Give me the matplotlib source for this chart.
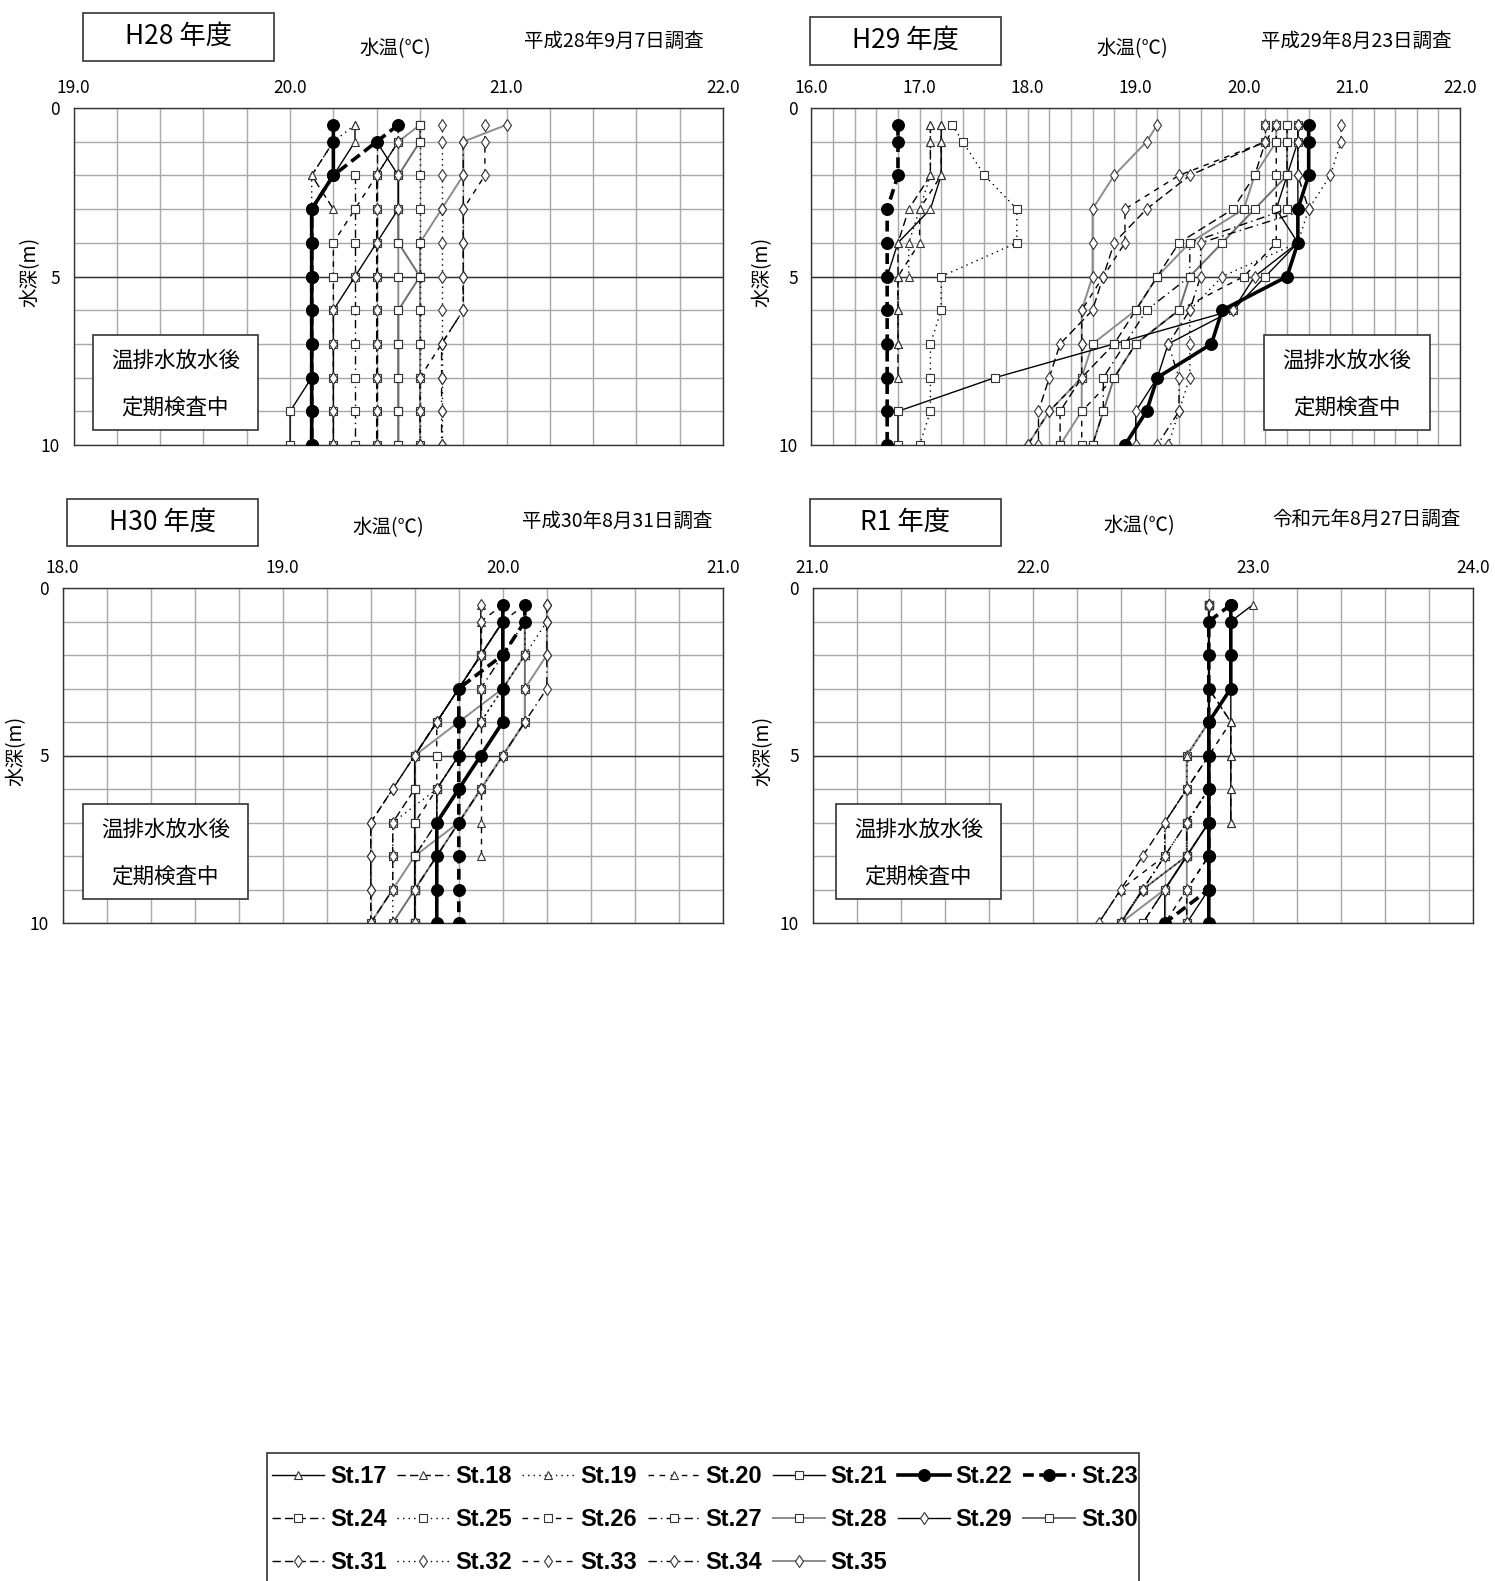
import numpy as np
import matplotlib
matplotlib.use('Agg')
import matplotlib.pyplot as plt
from matplotlib.lines import Line2D
from matplotlib.patches import Rectangle

plt.rcParams['font.family'] = ['Noto Sans CJK JP', 'DejaVu Sans']

n = np.nan

# depth of each measurement (m)
depths = [0.5, 1, 2, 3, 4, 5, 6, 7, 8, 9, 10]
stations = ['St.%d' % i for i in range(17, 36)]

# water temperature per station, H28 (2016/9/7)
h28 = {
    'St.17': [20.3, 20.3, 20.2, 20.1, n, n, n, n, n, n, n],
    'St.18': [20.2, 20.2, 20.1, 20.2, n, n, n, n, n, n, n],
    'St.19': [20.3, 20.2, 20.1, 20.1, n, n, n, n, n, n, n],
    'St.20': [n] * 11,
    'St.21': [20.2, 20.2, 20.2, 20.1, 20.1, 20.1, 20.1, 20.1, 20.1, 20.0, 20.0],
    'St.22': [20.2, 20.2, 20.2, 20.1, 20.1, 20.1, 20.1, 20.1, 20.1, 20.1, 20.1],
    'St.23': [20.5, 20.4, 20.2, 20.1, 20.1, 20.1, 20.1, 20.1, 20.1, 20.1, 20.1],
    'St.24': [n, 20.4, 20.4, 20.4, 20.4, 20.4, 20.4, 20.4, 20.4, 20.4, 20.4],
    'St.25': [20.6, 20.6, 20.6, 20.6, 20.6, 20.6, 20.6, 20.6, 20.6, 20.6, 20.6],
    'St.26': [20.5, 20.5, 20.4, 20.3, 20.2, 20.2, 20.2, 20.2, 20.2, 20.2, 20.2],
    'St.27': [n, n, 20.3, 20.3, 20.3, 20.3, 20.3, 20.3, 20.3, 20.3, 20.3],
    'St.28': [20.6, 20.5, 20.5, 20.5, 20.5, 20.5, 20.5, 20.5, 20.5, 20.5, 20.5],
    'St.29': [n, 20.4, 20.5, 20.5, 20.4, 20.3, 20.2, 20.2, 20.2, 20.2, 20.2],
    'St.30': [20.6, 20.6, 20.5, 20.5, 20.5, 20.6, 20.5, 20.5, 20.5, 20.5, 20.5],
    'St.31': [20.5, 20.5, 20.4, 20.4, 20.4, 20.4, 20.4, 20.4, 20.4, 20.4, 20.4],
    'St.32': [20.7, 20.7, 20.7, 20.7, 20.7, 20.7, 20.7, 20.7, 20.7, 20.7, 20.7],
    'St.33': [20.9, 20.9, 20.9, 20.8, 20.8, 20.8, 20.8, 20.7, 20.6, 20.6, 20.6],
    'St.34': [n, 20.8, 20.8, 20.8, 20.8, 20.8, 20.8, 20.7, 20.7, 20.7, 20.7],
    'St.35': [21.0, 20.8, 20.8, 20.7, 20.6, 20.6, 20.6, 20.6, 20.6, 20.6, 20.6],
}

# H29 (2017/8/23)
h29 = {
    'St.17': [17.2, 17.2, 17.2, 17.1, 16.8, 16.7, n, n, n, n, n],
    'St.18': [17.1, 17.1, 17.1, 16.9, 16.8, 16.8, 16.8, 16.8, 16.8, n, n],
    'St.19': [17.1, 17.1, 17.1, 17.0, 16.9, 16.9, n, n, n, n, n],
    'St.20': [17.2, 17.2, 17.2, 17.0, 17.0, 16.8, 16.8, 16.8, n, n, n],
    'St.21': [20.5, 20.5, 20.4, 20.3, 20.5, 20.2, 19.9, 18.8, 17.7, 16.8, 16.8],
    'St.22': [20.6, 20.6, 20.6, 20.5, 20.5, 20.4, 19.8, 19.7, 19.2, 19.1, 18.9],
    'St.23': [16.8, 16.8, 16.8, 16.7, 16.7, 16.7, 16.7, 16.7, 16.7, 16.7, 16.7],
    'St.24': [20.2, 20.2, 20.1, 19.9, 19.4, 19.2, 19.0, 18.8, 18.5, 18.3, 18.3],
    'St.25': [17.3, 17.4, 17.6, 17.9, 17.9, 17.2, 17.2, 17.1, 17.1, 17.1, 17.0],
    'St.26': [20.3, 20.3, 20.3, 20.3, 20.3, 20.0, 19.4, 19.0, 18.8, 18.5, 18.5],
    'St.27': [20.4, 20.4, 20.4, 20.4, 19.5, 19.5, 19.1, 18.9, 18.7, 18.7, 18.6],
    'St.28': [20.3, 20.3, 20.1, 20.0, 19.5, 19.2, 19.0, 18.6, 18.5, 18.5, 18.3],
    'St.29': [20.5, 20.5, 20.5, 20.5, 20.5, 20.1, 19.9, 19.3, 19.2, 19.0, 19.0],
    'St.30': [20.4, 20.4, 20.4, 20.1, 19.8, 19.5, 19.4, 19.0, 18.8, 18.7, 18.6],
    'St.31': [20.3, 20.2, 19.5, 19.1, 18.8, 18.7, 18.6, 18.3, 18.2, 18.1, 18.1],
    'St.32': [20.9, 20.9, 20.8, 20.6, 20.5, 19.8, 19.5, 19.5, 19.5, 19.4, 19.3],
    'St.33': [20.2, 20.2, 19.4, 18.9, 18.9, 18.7, 18.5, 18.5, 18.5, 18.2, 18.0],
    'St.34': [20.5, 20.5, 20.5, 20.6, 19.6, 19.6, 19.5, 19.3, 19.4, 19.4, 19.2],
    'St.35': [19.2, 19.1, 18.8, 18.6, 18.6, 18.6, 18.5, 18.5, 18.5, 18.2, 18.0],
}

# H30 (2018/8/31)
h30 = {
    'St.17': [n] * 11,
    'St.18': [n] * 11,
    'St.19': [n] * 11,
    'St.20': [19.9, 19.9, 19.9, 19.9, 19.9, 19.9, 19.9, 19.9, 19.9, n, n],
    'St.21': [20.0, 20.0, 19.9, 19.8, 19.7, 19.6, 19.6, 19.6, 19.6, 19.6, 19.6],
    'St.22': [20.0, 20.0, 20.0, 20.0, 20.0, 19.9, 19.8, 19.7, 19.7, 19.7, 19.7],
    'St.23': [20.1, 20.1, 20.0, 19.8, 19.8, 19.8, 19.8, 19.8, 19.8, 19.8, 19.8],
    'St.24': [20.0, 20.0, 19.9, 19.8, 19.7, 19.6, 19.6, 19.5, 19.5, 19.5, 19.4],
    'St.25': [20.1, 20.1, 20.1, 20.0, 19.9, 19.8, 19.7, 19.7, 19.6, 19.6, 19.6],
    'St.26': [20.1, 20.0, 19.9, 19.8, 19.7, 19.7, 19.7, 19.6, 19.6, 19.6, 19.6],
    'St.27': [20.1, 20.1, 20.0, 19.9, 19.9, 19.8, 19.7, 19.7, 19.6, 19.6, 19.6],
    'St.28': [20.1, 20.1, 20.1, 20.0, 19.8, 19.6, 19.6, 19.6, 19.6, 19.6, 19.6],
    'St.29': [19.9, 19.9, 19.9, 19.9, 19.9, 19.8, 19.7, 19.7, 19.7, 19.7, 19.7],
    'St.30': [20.1, 20.1, 20.1, 20.1, 20.1, 20.0, 19.9, 19.8, 19.7, 19.6, 19.5],
    'St.31': [20.0, 20.0, 19.9, 19.8, 19.7, 19.6, 19.5, 19.4, 19.4, 19.4, 19.4],
    'St.32': [20.2, 20.2, 20.1, 20.0, 19.9, 19.8, 19.7, 19.5, 19.5, 19.5, 19.5],
    'St.33': [20.0, 19.9, 19.9, 19.8, 19.7, 19.6, 19.5, 19.4, 19.4, 19.4, 19.4],
    'St.34': [20.2, 20.2, 20.2, 20.2, 20.1, 20.0, 19.9, 19.8, 19.7, 19.6, 19.6],
    'St.35': [20.2, 20.2, 20.2, 20.1, 20.1, 20.0, 19.9, 19.8, 19.6, 19.5, 19.4],
}

# R1 (2019/8/27)
r1 = {
    'St.17': [23.0, 22.9, 22.9, 22.9, 22.9, 22.9, 22.9, 22.9, n, n, n],
    'St.18': [22.8, 22.8, 22.8, 22.8, 22.9, 22.9, 22.9, 22.9, n, n, n],
    'St.19': [22.8, 22.8, 22.8, 22.8, 22.8, 22.7, 22.7, 22.6, 22.6, 22.5, 22.4],
    'St.20': [22.8, 22.8, 22.8, 22.8, 22.9, 22.8, 22.7, 22.6, 22.6, 22.4, 22.3],
    'St.21': [22.8, 22.8, 22.8, 22.8, 22.8, 22.8, 22.8, 22.8, 22.8, 22.8, 22.7],
    'St.22': [22.9, 22.9, 22.9, 22.9, 22.8, 22.8, 22.8, 22.8, 22.8, 22.8, 22.8],
    'St.23': [22.9, 22.8, 22.8, 22.8, 22.8, 22.8, 22.8, 22.8, 22.8, 22.8, 22.6],
    'St.24': [22.8, 22.8, 22.8, 22.8, 22.8, 22.8, 22.8, 22.8, 22.7, 22.6, 22.5],
    'St.25': [22.8, 22.8, 22.8, 22.8, 22.8, 22.8, 22.8, 22.7, 22.6, 22.5, 22.4],
    'St.26': [22.8, 22.8, 22.8, 22.8, 22.8, 22.8, 22.8, 22.8, 22.8, 22.7, 22.6],
    'St.27': [22.8, 22.8, 22.8, 22.8, 22.8, 22.8, 22.8, 22.7, 22.7, 22.6, 22.5],
    'St.28': [22.8, 22.8, 22.8, 22.8, 22.8, 22.7, 22.7, 22.7, 22.7, 22.7, 22.7],
    'St.29': [22.8, 22.8, 22.8, 22.8, 22.8, 22.8, 22.8, 22.8, 22.7, 22.6, 22.6],
    'St.30': [22.8, 22.8, 22.8, 22.8, 22.8, 22.8, 22.8, 22.8, 22.7, 22.5, 22.4],
    'St.31': [22.8, 22.8, 22.8, 22.8, 22.8, 22.8, 22.7, 22.6, 22.5, 22.4, 22.3],
    'St.32': [22.8, 22.8, 22.8, 22.8, 22.8, 22.8, 22.8, 22.7, 22.7, 22.5, 22.4],
    'St.33': [22.8, 22.8, 22.8, 22.8, 22.8, 22.8, 22.8, 22.8, 22.8, 22.7, 22.7],
    'St.34': [22.8, 22.8, 22.8, 22.8, 22.8, 22.8, 22.8, 22.7, 22.6, 22.5, 22.4],
    'St.35': [22.8, 22.8, 22.8, 22.8, 22.8, 22.7, 22.7, 22.7, 22.7, 22.6, 22.4],
}

# line / marker style of each station (as in the legend)
DASH = (0, (6, 3))
DOT = (0, (1, 3))
GAP = (0, (4, 4))
DDOT = (0, (6, 3, 1, 3))
GRAY = '#8c8c8c'
styles = {
    'St.17': ('-', '^', 'k', 1.0), 'St.18': (DASH, '^', 'k', 1.0),
    'St.19': (DOT, '^', 'k', 1.0), 'St.20': (GAP, '^', 'k', 1.0),
    'St.21': ('-', 's', 'k', 1.0), 'St.22': ('-', 'o', 'k', 2.6),
    'St.23': ((0, (3, 1.5)), 'o', 'k', 2.6), 'St.24': (DASH, 's', 'k', 1.0),
    'St.25': (DOT, 's', 'k', 1.0), 'St.26': (GAP, 's', 'k', 1.0),
    'St.27': (DDOT, 's', 'k', 1.0), 'St.28': ('-', 's', GRAY, 1.4),
    'St.29': ('-', 'd', 'k', 1.0), 'St.30': ('-', 's', '#6e6e6e', 1.4),
    'St.31': (DASH, 'd', 'k', 1.0), 'St.32': (DOT, 'd', 'k', 1.0),
    'St.33': (GAP, 'd', 'k', 1.0), 'St.34': (DDOT, 'd', 'k', 1.0),
    'St.35': ('-', 'd', GRAY, 1.4),
}


def line_kw(st):
    ls, mk, col, lw = styles[st]
    filled = mk == 'o'
    return dict(linestyle=ls, marker=mk, color=col, lw=lw,
                markersize=8.5 if filled else 6,
                markerfacecolor='black' if filled else 'white',
                markeredgecolor='black' if filled else '#333333',
                markeredgewidth=0.8)


W, H = 1495, 1581
fig = plt.figure(figsize=(W / 100, H / 100), dpi=100)


def fx(px):
    return px / W


def fy(py):
    return 1 - py / H


panels = [
    # data, xlim, axes px box (left, top, right, bottom), title, date, title box, note box, ylabel x
    (h28, (19.0, 22.0), (73.6, 108, 723, 445), 'H28 年度', '平成28年9月7日調査',
     (82.7, 13, 274, 60.5), (395, 48.4), (614, 41.3), (92.7, 334.7, 258, 430.5), 30),
    (h29, (16.0, 22.0), (811.5, 108, 1460, 445), 'H29 年度', '平成29年8月23日調査',
     (809.5, 17, 1001, 64.5), (1132, 48.4), (1356, 41.3), (1264, 334.7, 1429.5, 430.5), 762),
    (h30, (18.0, 21.0), (62.5, 588, 723, 923), 'H30 年度', '平成30年8月31日調査',
     (66.5, 499, 258, 546.4), (388, 528), (617, 521), (82.7, 804.5, 248, 899.2), 16),
    (r1, (21.0, 24.0), (812.5, 588, 1473, 923), 'R1 年度', '令和元年8月27日調査',
     (809.5, 499, 1001, 546.4), (1139, 526), (1367, 519), (835.7, 804.5, 1001, 899.2), 763),
]

order = [s for s in stations if styles[s][2] != 'k'] + \
        [s for s in stations if styles[s][2] == 'k' and styles[s][1] != 'o'] + \
        ['St.22', 'St.23']

for data, xlim, box, title, date, tbox, wpos, dpos, nbox, ylx in panels:
    l, t, r, b = box
    ax = fig.add_axes([fx(l), fy(b), fx(r - l), (b - t) / H])
    for st in order:
        vals = np.array(data[st], dtype=float)
        if np.all(np.isnan(vals)):
            continue
        ax.plot(vals, depths, zorder=3 if styles[st][1] == 'o' else 2, **line_kw(st))
    ax.set_xlim(*xlim)
    ax.set_ylim(10, 0)
    ax.set_xticks(np.arange(xlim[0], xlim[1] + 0.01, 1.0))
    ax.set_xticklabels(['%.1f' % v for v in np.arange(xlim[0], xlim[1] + 0.01, 1.0)])
    ax.set_xticks(np.arange(xlim[0], xlim[1] + 0.01, 0.2), minor=True)
    ax.set_yticks([0, 5, 10])
    ax.set_yticks(range(1, 10), minor=True)
    ax.xaxis.tick_top()
    ax.tick_params(which='both', length=0)
    ax.tick_params(axis='x', labelsize=12.5, pad=8)
    ax.tick_params(axis='y', labelsize=12.5, pad=10)
    ax.grid(which='both', color='#a8a8a8', lw=1.0, zorder=0)
    ax.axhline(5, color='#333333', lw=1.0, zorder=1)
    ax.set_axisbelow(True)
    for sp in ax.spines.values():
        sp.set_color('#333333')
        sp.set_linewidth(1.0)

    # title box
    x0, y0, x1, y1 = tbox
    fig.add_artist(Rectangle((fx(x0), fy(y1)), fx(x1 - x0), (y1 - y0) / H,
                             transform=fig.transFigure, facecolor='white',
                             edgecolor='#333333', lw=1.2))
    fig.text(fx((x0 + x1) / 2), fy((y0 + y1) / 2), title, ha='center', va='center',
             fontsize=19)
    fig.text(fx(wpos[0]), fy(wpos[1]), '水温(℃)', ha='center', va='center', fontsize=14)
    fig.text(fx(dpos[0]), fy(dpos[1]), date, ha='center', va='center', fontsize=14)
    fig.text(fx(ylx), fy((t + b) / 2 - 5), '水深(m)', ha='center', va='center',
             rotation=90, fontsize=14)

    # note box
    x0, y0, x1, y1 = nbox
    fig.add_artist(Rectangle((fx(x0), fy(y1)), fx(x1 - x0), (y1 - y0) / H,
                             transform=fig.transFigure, facecolor='white',
                             edgecolor='#333333', lw=1.2, zorder=5))
    fig.text(fx((x0 + x1) / 2), fy(y0 + 0.27 * (y1 - y0)), '温排水放水後',
             ha='center', va='center', fontsize=15.5, zorder=6)
    fig.text(fx((x0 + x1) / 2), fy(y0 + 0.76 * (y1 - y0)), '定期検査中',
             ha='center', va='center', fontsize=15.5, zorder=6)

# legend frame (its bottom edge runs off the page)
fig.add_artist(Rectangle((fx(267), fy(1600)), fx(1139 - 267), (1600 - 1453) / H,
                         transform=fig.transFigure, facecolor='white',
                         edgecolor='#333333', lw=1.2))

# legend, filled row by row (7 columns x 3 rows)
ncol, nrow = 7, 3
leg_order = [i * ncol + j for j in range(ncol) for i in range(nrow) if i * ncol + j < len(stations)]
handles = [Line2D([], [], **line_kw(stations[k])) for k in leg_order]
labels = [stations[k] for k in leg_order]
leg = fig.legend(handles, labels, ncol=ncol, loc='upper left',
                 bbox_to_anchor=(fx(272), fy(1465)), frameon=False,
                 borderaxespad=0, handlelength=2.2, borderpad=0,
                 handletextpad=0.25, columnspacing=0.45, labelspacing=0.85,
                 prop={'family': ['Liberation Sans', 'DejaVu Sans'],
                       'weight': 'bold', 'size': 17})
leg.set_zorder(3)

fig.savefig('out.png', dpi=100)
